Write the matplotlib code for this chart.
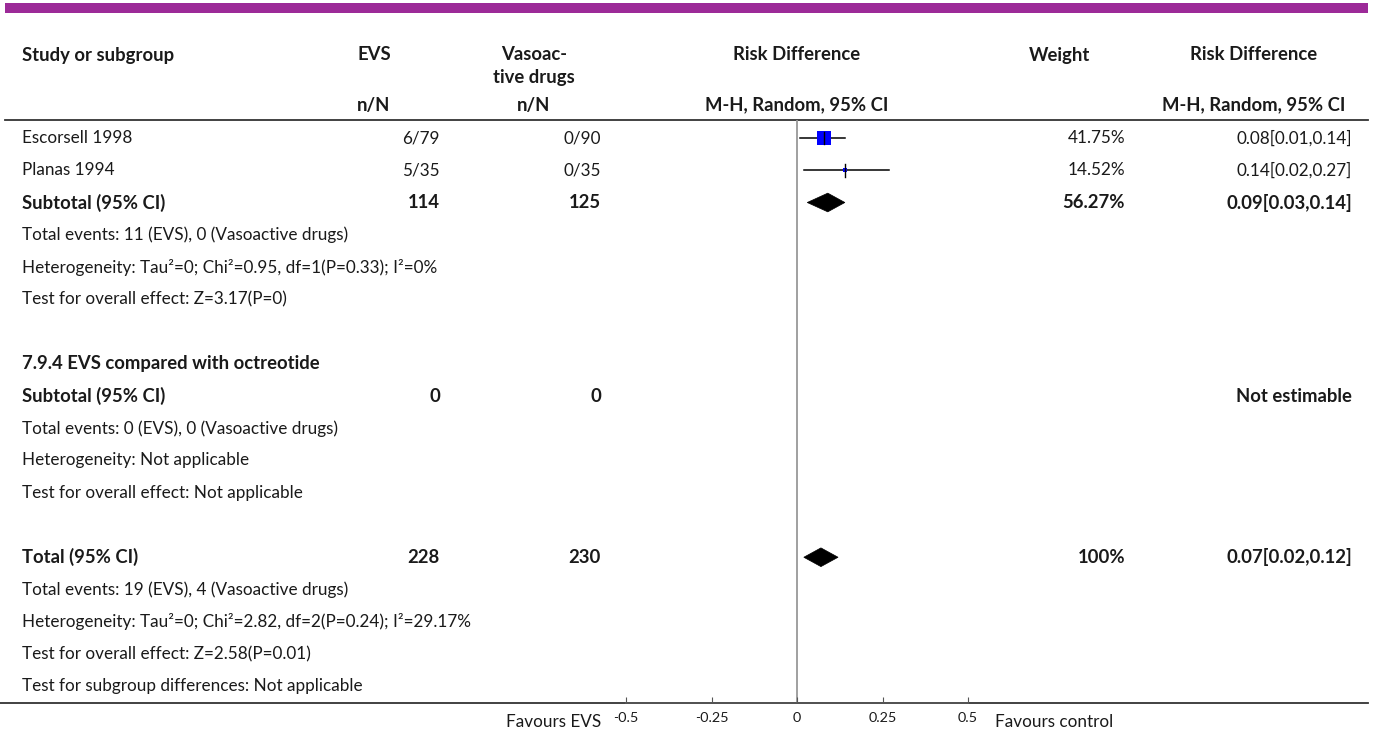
import matplotlib
matplotlib.use("Agg")
import matplotlib.pyplot as plt
from matplotlib.patches import Rectangle, Polygon
from matplotlib.textpath import TextPath
from matplotlib.font_manager import FontProperties

# ---- data -------------------------------------------------------------
studies = ["Escorsell 1998", "Planas 1994"]
evs_nN = ["6/79", "5/35"]
vaso_nN = ["0/90", "0/35"]
weights = [41.75, 14.52]
rd = [0.08, 0.14]
rd_lo = [0.01, 0.02]
rd_hi = [0.14, 0.27]

sub1_totals = ("114", "125")
sub1_weight = 56.27
sub1_rd, sub1_lo, sub1_hi = 0.09, 0.03, 0.14

sub2_title = "7.9.4 EVS compared with octreotide"
sub2_totals = ("0", "0")

total_totals = ("228", "230")
total_weight = 100
total_rd, total_lo, total_hi = 0.07, 0.02, 0.12

xticks = [-0.5, -0.25, 0, 0.25, 0.5]
xtick_labels = ["-0.5", "-0.25", "0", "0.25", "0.5"]

# ---- layout -----------------------------------------------------------
W, H = 1375, 733
FAMILY = "Lato"
FONT = [FAMILY, "DejaVu Sans"]
TXT = "#1a1a1a"


def fit_size(s, px, weight):
    """Font size (pt) at which string s is px pixels wide at 100 dpi."""
    fp = FontProperties(family=FAMILY, weight=weight)
    w = TextPath((0, 0), s, size=10, prop=fp).get_extents().width
    return 10 * (px * 0.72) / w


FS = fit_size("Heterogeneity: Tau\u00b2=0; Chi\u00b2=2.82, df=2(P=0.24); I\u00b2=29.17%", 446, "normal")
FSB = fit_size("Subtotal (95% CI)", 142, "bold")

fig = plt.figure(figsize=(W / 100, H / 100), dpi=100)
bg = fig.add_axes([0, 0, 1, 1])
bg.set_xlim(0, W)
bg.set_ylim(H, 0)
bg.axis("off")

y0, step = 138, 32.25
def ry(i):
    return y0 + step * i

X_NAME, X_EVS, X_VASO, X_W, X_RD = 22, 440, 601, 1125, 1352
C_EVS, C_VASO, C_PLOT, C_W, C_RD = 374, 534, 797, 1060, 1254

def txt(x, y, s, ha="left", bold=False):
    bg.text(x, y, s, ha=ha, va="center", fontsize=FSB if bold else FS, color=TXT,
            family=FONT, fontweight="bold" if bold else "normal")

# top bar
bg.add_patch(Rectangle((5, 3), 1363, 10, color="#9c2a98", lw=0))

# headers
txt(X_NAME, 55, "Study or subgroup", bold=True)
txt(C_EVS, 55, "EVS", ha="center", bold=True)
txt(C_VASO, 55, "Vasoac-", ha="center", bold=True)
txt(C_VASO, 78, "tive drugs", ha="center", bold=True)
txt(C_PLOT, 55, "Risk Difference", ha="center", bold=True)
txt(C_W, 55, "Weight", ha="center", bold=True)
txt(C_RD, 55, "Risk Difference", ha="center", bold=True)
txt(C_EVS, 105, "n/N", ha="center", bold=True)
txt(C_VASO, 105, "n/N", ha="center", bold=True)
txt(C_PLOT, 105, "M-H, Random, 95% CI", ha="center", bold=True)
txt(C_RD, 105, "M-H, Random, 95% CI", ha="center", bold=True)
bg.plot([5, 1368], [120, 120], color="#333333", lw=1.3)

# study rows
for i, name in enumerate(studies):
    y = ry(i)
    txt(X_NAME, y, name)
    txt(X_EVS, y, evs_nN[i], ha="right")
    txt(X_VASO, y, vaso_nN[i], ha="right")
    txt(X_W, y, f"{weights[i]:.2f}%", ha="right")
    txt(X_RD, y, f"{rd[i]:.2f}[{rd_lo[i]:.2f},{rd_hi[i]:.2f}]", ha="right")

y = ry(2)
txt(X_NAME, y, "Subtotal (95% CI)", bold=True)
txt(X_EVS, y, sub1_totals[0], ha="right", bold=True)
txt(X_VASO, y, sub1_totals[1], ha="right", bold=True)
txt(X_W, y, f"{sub1_weight:.2f}%", ha="right", bold=True)
txt(X_RD, y, f"{sub1_rd:.2f}[{sub1_lo:.2f},{sub1_hi:.2f}]", ha="right", bold=True)
txt(X_NAME, ry(3), "Total events: 11 (EVS), 0 (Vasoactive drugs)")
txt(X_NAME, ry(4), "Heterogeneity: Tau\u00b2=0; Chi\u00b2=0.95, df=1(P=0.33); I\u00b2=0%")
txt(X_NAME, ry(5), "Test for overall effect: Z=3.17(P=0)")

txt(X_NAME, ry(7), sub2_title, bold=True)
y = ry(8)
txt(X_NAME, y, "Subtotal (95% CI)", bold=True)
txt(X_EVS, y, sub2_totals[0], ha="right", bold=True)
txt(X_VASO, y, sub2_totals[1], ha="right", bold=True)
txt(X_RD, y, "Not estimable", ha="right", bold=True)
txt(X_NAME, ry(9), "Total events: 0 (EVS), 0 (Vasoactive drugs)")
txt(X_NAME, ry(10), "Heterogeneity: Not applicable")
txt(X_NAME, ry(11), "Test for overall effect: Not applicable")

y = ry(13)
txt(X_NAME, y, "Total (95% CI)", bold=True)
txt(X_EVS, y, total_totals[0], ha="right", bold=True)
txt(X_VASO, y, total_totals[1], ha="right", bold=True)
txt(X_W, y, f"{total_weight}%", ha="right", bold=True)
txt(X_RD, y, f"{total_rd:.2f}[{total_lo:.2f},{total_hi:.2f}]", ha="right", bold=True)
txt(X_NAME, ry(14), "Total events: 19 (EVS), 4 (Vasoactive drugs)")
txt(X_NAME, ry(15), "Heterogeneity: Tau\u00b2=0; Chi\u00b2=2.82, df=2(P=0.24); I\u00b2=29.17%")
txt(X_NAME, ry(16), "Test for overall effect: Z=2.58(P=0.01)")
txt(X_NAME, ry(17), "Test for subgroup differences: Not applicable")

# bottom rule and axis captions
AX_Y = 703
bg.plot([0, 1368], [AX_Y, AX_Y], color="#333333", lw=1.3)
txt(601, 722, "Favours EVS", ha="right")
txt(995, 722, "Favours control")

# ---- forest panel -----------------------------------------------------
PX_L, PX_R, PX_T = 626, 968, 120
fa = fig.add_axes([PX_L / W, (H - AX_Y) / H, (PX_R - PX_L) / W, (AX_Y - PX_T) / H])
fa.patch.set_alpha(0)
fa.set_xlim(-0.5, 0.5)
fa.set_ylim((AX_Y - y0) / step, (PX_T - y0) / step)
for s in ("top", "left", "right"):
    fa.spines[s].set_visible(False)
fa.spines["bottom"].set_color("#555555")
fa.spines["bottom"].set_linewidth(1.3)
fa.set_yticks([])
fa.set_xticks(xticks)
fa.set_xticklabels(xtick_labels, family=FONT, fontsize=FS * 0.84, color=TXT)
fa.tick_params(axis="x", direction="in", length=4, width=0.8, color="#555555", pad=6.5)

fa.axvline(0, color="#999999", lw=1.3, zorder=1)

for i in range(len(studies)):
    fa.plot([rd_lo[i], rd_hi[i]], [i, i], color="black", lw=1.1, zorder=2)
    side_pt = 0.34 * weights[i] * 0.72
    fa.plot(rd[i], i, marker="s", ms=side_pt, mfc="#0000ff", mec="#0000ff",
            mew=0, zorder=3)
    fa.plot([rd[i], rd[i]], [i - 0.2, i + 0.2], color="black", lw=1.0, zorder=4)

def diamond(lo, est, hi, row, h=0.29):
    fa.add_patch(Polygon([(lo, row), (est, row - h), (hi, row), (est, row + h)],
                         closed=True, fc="black", ec="black", lw=0.5, zorder=3))

diamond(sub1_lo, sub1_rd, sub1_hi, 2)
diamond(total_lo, total_rd, total_hi, 13)

fig.savefig("out.png", dpi=100)
